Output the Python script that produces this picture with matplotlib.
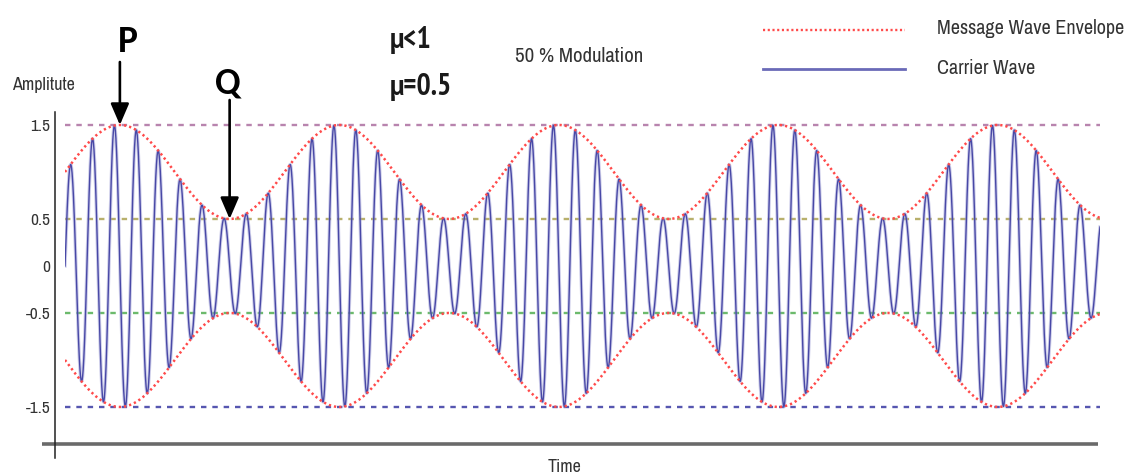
import numpy as np
import matplotlib
matplotlib.use("Agg")
import matplotlib.pyplot as plt
from matplotlib import font_manager as fm
from matplotlib.patches import FancyArrowPatch
import matplotlib.transforms as mtransforms

# ---------------- data ----------------
mu = 0.5                      # modulation index
carrier_amplitude = 1.0
message_cycles_shown = 4.715  # message periods visible on the time axis
carrier_per_message = 10      # carrier cycles per message cycle
level_values = [1.5, 0.5, -0.5, -1.5]
level_colors = ["#b884ae", "#b8b06c", "#6cba6c", "#5656b0"]
ytick_values = [1.5, 0.5, 0, -0.5, -1.5]
ytick_labels = ["1.5", "0.5", "0", "-0.5", "-1.5"]
P_time = 0.25    # envelope maximum (message periods)
Q_time = 0.75    # envelope minimum

# ---------------- fonts ----------------
fonts = fm.fontManager.ttflist


def pick(cands, need_bold=False, default="DejaVu Sans"):
    for c in cands:
        ws = [f.weight for f in fonts if f.name == c]
        if not ws:
            continue
        ws = [w if isinstance(w, int) else (700 if "bold" in str(w) else 400) for w in ws]
        if need_bold and max(ws) < 700:
            continue
        return c
    return default


narrow_list = ["Liberation Sans Narrow", "Arial Narrow", "Archivo Narrow", "PT Sans Narrow",
               "Pragati Narrow", "Roboto Condensed", "IBM Plex Sans Condensed"]
NARROW = pick(narrow_list)
NARROW_B = pick(narrow_list, need_bold=True)
BOLDF = pick(["Carlito", "Lato", "Open Sans"], need_bold=True)

W, H = 1131, 476
fig = plt.figure(figsize=(W / 100, H / 100), dpi=100)


def fx(x):
    return x / W


def fy(y):
    return 1 - y / H


# axes spanning the wave region: x 65..1100 px, y 112..458 px
ax = fig.add_axes([fx(65), fy(458), fx(1100) - fx(65), fy(112) - fy(458)])
ax.set_xlim(0, message_cycles_shown)
ax.set_ylim(-2.043, 1.638)
for s in ax.spines.values():
    s.set_visible(False)
ax.set_xticks([])
ax.set_yticks(ytick_values, ytick_labels)
ax.tick_params(axis="y", length=0, pad=10.5, labelsize=12.5, labelcolor="#333333")
for lab in ax.get_yticklabels():
    lab.set_family(NARROW)

t = np.linspace(0, message_cycles_shown, 6000)
envelope = carrier_amplitude * (1 + mu * np.sin(2 * np.pi * t))
carrier = envelope * np.sin(2 * np.pi * carrier_per_message * t)

# reference levels
for v, c in zip(level_values, level_colors):
    ax.axhline(v, color=c, lw=1.7, ls=(0, (2.3, 2.5)), zorder=1)

# carrier wave
ax.plot(t, carrier, color="#9090d0", lw=2.4, alpha=0.45, zorder=2)
ax.plot(t, carrier, color="#4848a6", lw=1.0, zorder=2.1)

# envelope
ax.plot(t, envelope, color="#ff4a4a", lw=1.8, ls=(0, (0.9, 1.2)), zorder=3)
ax.plot(t, -envelope, color="#ff4a4a", lw=1.8, ls=(0, (0.9, 1.2)), zorder=3)

# axis lines
blend = mtransforms.blended_transform_factory(ax.transAxes, ax.transData)
ax.plot([-0.0222, 0.998], [-1.894, -1.894], transform=blend, color="#6a6a6a",
        lw=2.6, clip_on=False, solid_capstyle="butt", zorder=4)
ax.plot([-0.00966, -0.00966], [0, 1], transform=ax.transAxes, color="#222222",
        lw=1.1, clip_on=False, zorder=4)

# axis titles
fig.text(fx(12), fy(85), "Amplitute", family=NARROW, fontsize=13, color="#333333",
         ha="left", va="center")
fig.text(fx(565), fy(467), "Time", family=NARROW, fontsize=13, color="#333333",
         ha="center", va="center")

# P / Q annotations
fig.text(fx(118), fy(52), "P", family=BOLDF, fontweight="bold", fontsize=27,
         color="black", ha="left", va="baseline")
fig.text(fx(215), fy(93), "Q", family=BOLDF, fontweight="bold", fontsize=27,
         color="black", ha="left", va="baseline")

arrow_style = "-|>,head_length=0.65,head_width=0.28"
p_tip = ax.transData.transform((P_time, 1.5))
q_tip = ax.transData.transform((Q_time, 0.5))
pa = FancyArrowPatch(posA=(0, 0), posB=(0, 0), transform=None, arrowstyle=arrow_style,
                     mutation_scale=20, color="black", lw=1.9, shrinkA=0, shrinkB=0, zorder=6)
pa.set_positions((p_tip[0], fy(62) * H), p_tip)
fig.add_artist(pa)
qa = FancyArrowPatch(posA=(0, 0), posB=(0, 0), transform=None, arrowstyle=arrow_style,
                     mutation_scale=20, color="black", lw=1.9, shrinkA=0, shrinkB=0, zorder=6)
qa.set_positions((q_tip[0], fy(100) * H), q_tip)
fig.add_artist(qa)

# mu text
fig.text(fx(390), fy(48), "μ<1", family=NARROW_B, fontweight="bold", fontsize=21.5,
         color="#1a1a1a", ha="left", va="baseline")
fig.text(fx(390), fy(95), "μ=0.5", family=NARROW_B, fontweight="bold", fontsize=21.5,
         color="#1a1a1a", ha="left", va="baseline")

fig.text(fx(515), fy(57), "50 % Modulation", family=NARROW, fontsize=15, color="#333333",
         ha="left", va="center")

# legend
fig.add_artist(plt.Line2D([fx(763), fx(905)], [fy(30), fy(30)], color="#ff4a4a", lw=1.7,
                          ls=(0, (0.9, 1.1))))
fig.add_artist(plt.Line2D([fx(763), fx(905)], [fy(69), fy(69)], color="#6a6ab8", lw=2.0))
fig.text(fx(937), fy(29), "Message Wave Envelope", family=NARROW, fontsize=14.5,
         color="#333333", ha="left", va="center")
fig.text(fx(937), fy(69), "Carrier Wave", family=NARROW, fontsize=14.5,
         color="#333333", ha="left", va="center")

fig.savefig("out.png", dpi=100)
